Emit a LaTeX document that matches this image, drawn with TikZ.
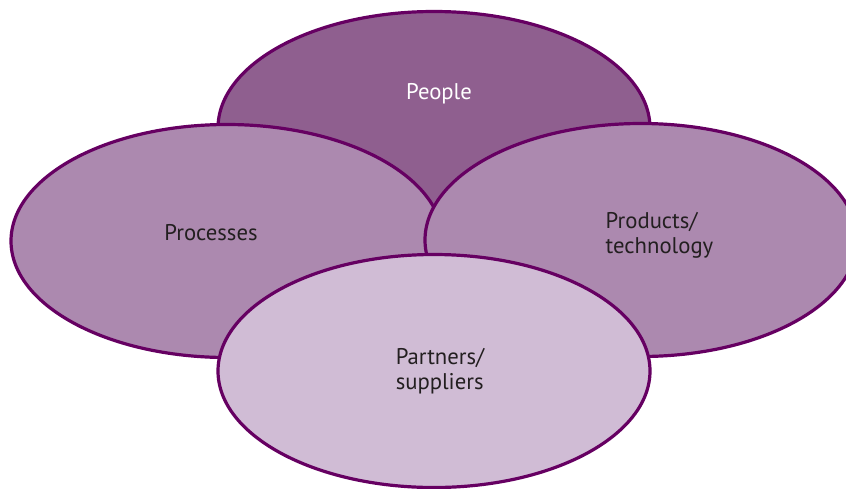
\documentclass[tikz,border=0pt]{standalone}
\usepackage{fontspec}
\setmainfont{PT Sans}
\usetikzlibrary{shapes.geometric}
\definecolor{edgepurple}{HTML}{660062}
\definecolor{toppurple}{HTML}{8F5F8F}
\definecolor{midpurple}{HTML}{AC89AF}
\definecolor{lightpurple}{HTML}{D0BCD5}
\definecolor{labelgray}{HTML}{231F20}
\tikzset{
  blob/.style={ellipse, draw=edgepurple, line width=3.2pt, inner sep=0pt, outer sep=0pt,
    minimum width=432pt, minimum height=233pt},
  lbl/.style={inner sep=0pt, text=labelgray, font=\fontsize{22.7}{25}\selectfont, align=left}
}
\begin{document}
\begin{tikzpicture}[x=1pt,y=-1pt]
\useasboundingbox (0,0) rectangle (846,488);
\begin{scope}
\clip (0,0) rectangle (846,488);
\node[blob, fill=toppurple] (people) at (434,128) {};
\node[blob, fill=midpurple] (processes) at (227,241) {};
\node[blob, fill=midpurple] (products) at (641,240) {};
\node[blob, fill=lightpurple] (partners) at (434,371) {};
\end{scope}
\node[lbl, text=white, anchor=base] (tpeople) at (439,99.3) {People};
\node[lbl, anchor=base] (tprocesses) at (211,240.7) {Processes};
\node[lbl] (tproducts) at (659.5,235) {Products/\\technology};
\node[lbl] (tpartners) at (440,371.5) {Partners/\\suppliers};
\end{tikzpicture}
\end{document}
